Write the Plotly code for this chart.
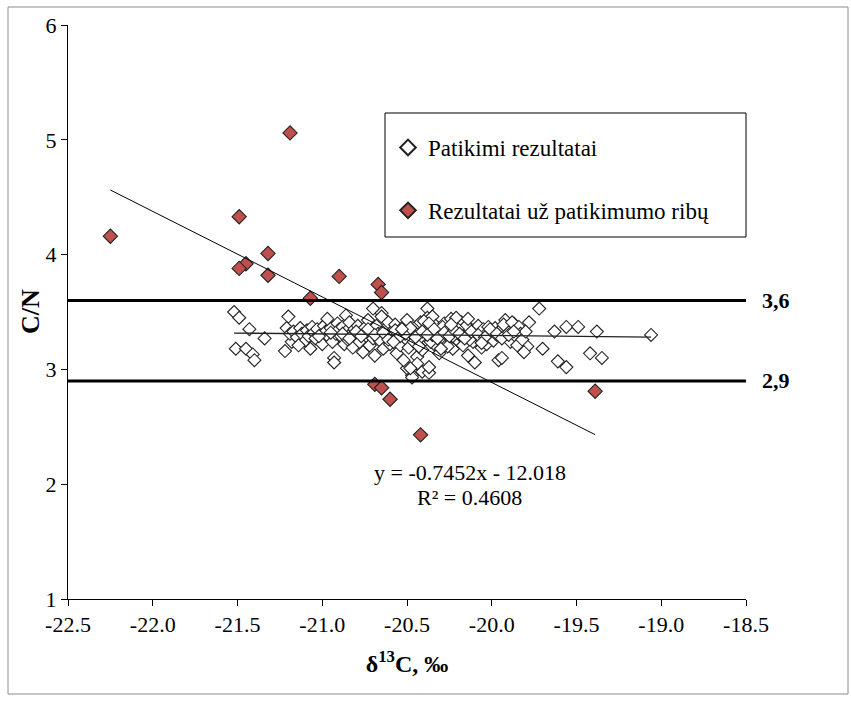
import plotly.graph_objects as go

# ---- data ----
reliable_x = [
    -21.52, -21.49, -21.43, -21.34, -21.51, -21.45, -21.41, -21.40, -21.20, -21.21, -21.22, -21.18, -21.19,
    -20.97, -20.93, -20.93, -20.70, -20.65, -20.86, -20.47, -20.50, -20.41, -20.38, -20.37, -20.10, -19.96,
    -19.92, -19.87, -19.72, -19.56, -19.49, -19.38, -19.06, -19.42, -19.35, -19.61, -19.56, -19.70, -19.79,
    -19.63, -19.78,
    -21.17, -21.15, -21.13, -21.12, -21.10, -21.09, -21.08, -21.06, -21.05, -21.04, -21.03, -21.01, -21.00,
    -20.99, -20.98, -20.96, -20.95, -20.94, -20.92, -20.91, -20.90, -21.14, -21.07, -20.97,
    -20.89, -20.88, -20.87, -20.86, -20.85, -20.84, -20.83, -20.82, -20.81, -20.80, -20.79, -20.78, -20.77,
    -20.76, -20.75, -20.74, -20.73, -20.72, -20.71, -20.70, -20.69, -20.68, -20.67, -20.66, -20.65, -20.64,
    -20.63, -20.62, -20.61, -20.60,
    -20.59, -20.58, -20.57, -20.56, -20.55, -20.54, -20.53, -20.52, -20.51, -20.50, -20.49, -20.48, -20.47,
    -20.46, -20.45, -20.44, -20.43, -20.42, -20.41, -20.40, -20.39, -20.38, -20.37, -20.36, -20.35, -20.34,
    -20.33, -20.32, -20.31, -20.30, -20.44, -20.48,
    -20.29, -20.28, -20.27, -20.26, -20.25, -20.24, -20.23, -20.22, -20.21, -20.20, -20.19, -20.18, -20.17,
    -20.16, -20.15, -20.14, -20.13, -20.12, -20.11, -20.09, -20.08, -20.07, -20.06, -20.05, -20.04, -20.03,
    -20.02, -20.01, -20.00,
    -19.99, -19.98, -19.97, -19.95, -19.94, -19.93, -19.91, -19.90, -19.89, -19.88, -19.86, -19.85,
    -19.84, -19.83, -19.82, -19.81, -19.80,
    -20.46, -20.42, -20.39, -20.36, -20.33, -20.29, -20.26, -20.23, -20.21, -20.18, -20.15, -20.13, -20.40,
    -20.35, -20.31, -20.27, -20.20, -20.17, -20.43, -20.37,
    -20.88, -20.84, -20.80, -20.77, -20.73, -20.69, -20.64, -20.61, -20.57, -20.54, -20.51, -20.48, -20.45,
    -20.41, -20.38, -20.34, -20.32, -20.28, -20.25, -20.22, -20.19, -20.16, -20.12, -20.08, -20.04, -20.01,
    -19.97, -19.94, -19.90, -19.87, -21.02, -20.95, -20.58, -20.53, -20.30, -20.24, -20.14, -20.06,
]
reliable_y = [
    3.50, 3.45, 3.35, 3.27, 3.18, 3.18, 3.13, 3.08, 3.46, 3.36, 3.16, 3.24, 3.31,
    3.41, 3.10, 3.06, 3.53, 3.49, 3.47, 2.95, 3.01, 2.98, 3.53, 2.97, 3.06, 3.08,
    3.43, 3.40, 3.53, 3.37, 3.37, 3.33, 3.30, 3.14, 3.10, 3.07, 3.02, 3.18, 3.20,
    3.33, 3.41,
    3.33, 3.28, 3.36, 3.31, 3.25, 3.34, 3.29, 3.37, 3.32, 3.27, 3.35, 3.30, 3.22,
    3.38, 3.33, 3.28, 3.36, 3.24, 3.31, 3.40, 3.35, 3.21, 3.18, 3.44,
    3.29, 3.37, 3.22, 3.33, 3.26, 3.41, 3.31, 3.19, 3.35, 3.28, 3.38, 3.24, 3.32,
    3.15, 3.36, 3.29, 3.43, 3.21, 3.34, 3.27, 3.12, 3.38, 3.31, 3.25, 3.46, 3.18,
    3.35, 3.29, 3.41, 3.22,
    3.33, 3.26, 3.39, 3.14, 3.30, 3.21, 3.36, 3.08, 3.27, 3.43, 3.19, 3.32, 2.93,
    3.24, 3.37, 3.11, 3.29, 3.41, 3.17, 3.34, 3.26, 3.45, 3.02, 3.31, 3.46, 3.22,
    3.38, 3.28, 3.14, 3.35, 3.05, 3.01,
    3.30, 3.40, 3.23, 3.35, 3.27, 3.44, 3.18, 3.32, 3.37, 3.25, 3.30, 3.41, 3.21,
    3.34, 3.28, 3.12, 3.36, 3.31, 3.24, 3.33, 3.38, 3.27, 3.19, 3.35, 3.30, 3.22,
    3.37, 3.28, 3.33,
    3.25, 3.36, 3.30, 3.34, 3.10, 3.39, 3.28, 3.32, 3.24, 3.41, 3.29, 3.21,
    3.37, 3.31, 3.26, 3.15, 3.33,
    3.33, 3.28, 3.36, 3.24, 3.31, 3.37, 3.20, 3.29, 3.45, 3.33, 3.38, 3.26, 3.42,
    3.30, 3.26, 3.33, 3.35, 3.29, 3.20, 3.40,
    3.31, 3.27, 3.33, 3.29, 3.35, 3.30, 3.32, 3.26, 3.34, 3.29, 3.31, 3.36, 3.28,
    3.33, 3.30, 3.35, 3.27, 3.32, 3.29, 3.34, 3.31, 3.27, 3.33, 3.30, 3.28, 3.35,
    3.31, 3.27, 3.30, 3.33, 3.29, 3.32, 3.24, 3.35, 3.18, 3.39, 3.44, 3.23,
]

outlier_x = [-22.25, -21.49, -21.45, -21.49, -21.32, -21.32, -21.19, -21.07, -20.90, -20.67,
             -20.65, -20.69, -20.65, -20.60, -20.42, -19.39]
outlier_y = [4.16, 4.33, 3.92, 3.88, 4.01, 3.82, 5.06, 3.62, 3.81, 3.74,
             3.67, 2.87, 2.84, 2.74, 2.43, 2.81]

# trend lines (slope, intercept)
trend_outlier = (-0.7452, -12.018)
trend_reliable = (-0.0142, 3.011)

limits = [3.6, 2.9]
limit_labels = ["3,6", "2,9"]

x_ticks = [-22.5, -22.0, -21.5, -21.0, -20.5, -20.0, -19.5, -19.0, -18.5]
y_ticks = [1, 2, 3, 4, 5, 6]

FONT = "Liberation Serif"
RED = "#C0504D"

fig = go.Figure()

fig.add_trace(go.Scatter(
    x=reliable_x, y=reliable_y, mode="markers", name="Patikimi rezultatai",
    legendgroup="a",
    marker=dict(symbol="diamond", size=10, color="white", line=dict(color="#222222", width=1.1)),
))
fig.add_trace(go.Scatter(
    x=outlier_x, y=outlier_y, mode="markers", name="Rezultatai už patikimumo ribų",
    legendgroup="b",
    marker=dict(symbol="diamond", size=11, color=RED, line=dict(color="#222222", width=1.1)),
))

# trend line of outliers
ox0, ox1 = min(outlier_x), max(outlier_x)
fig.add_trace(go.Scatter(
    x=[ox0, ox1], y=[trend_outlier[0] * ox0 + trend_outlier[1], trend_outlier[0] * ox1 + trend_outlier[1]],
    mode="lines", line=dict(color="black", width=1), showlegend=False, hoverinfo="skip"))
# trend line of reliable results
rx0, rx1 = min(reliable_x), max(reliable_x)
fig.add_trace(go.Scatter(
    x=[rx0, rx1], y=[trend_reliable[0] * rx0 + trend_reliable[1], trend_reliable[0] * rx1 + trend_reliable[1]],
    mode="lines", line=dict(color="#222222", width=1.3), showlegend=False, hoverinfo="skip"))

shapes = []
annotations = []
for v, lab in zip(limits, limit_labels):
    shapes.append(dict(type="line", xref="paper", x0=0, x1=1, yref="y", y0=v, y1=v,
                       line=dict(color="black", width=3)))
    annotations.append(dict(xref="paper", x=1, yref="y", y=v, text="<b>%s</b>" % lab, showarrow=False,
                            xanchor="left", xshift=14, font=dict(family=FONT, size=22, color="black")))

# legend box
shapes.append(dict(type="rect", xref="paper", yref="paper",
                   x0=(385 - 68) / 678, x1=(746 - 68) / 678, y0=(599 - 237) / 574, y1=(599 - 113) / 574,
                   line=dict(color="black", width=1), fillcolor="rgba(0,0,0,0)"))
# outer frame
shapes.append(dict(type="rect", xref="paper", yref="paper",
                   x0=(8 - 68) / 678, x1=(848 - 68) / 678, y0=(599 - 694) / 574, y1=(599 - 7) / 574,
                   line=dict(color="#8c8c8c", width=1), fillcolor="rgba(0,0,0,0)"))

annotations.append(dict(xref="x", yref="y", x=-20.13, y=2.10, text="y = -0.7452x - 12.018",
                        showarrow=False, font=dict(family=FONT, size=22, color="black")))
annotations.append(dict(xref="x", yref="y", x=-20.13, y=1.885, text="R² = 0.4608",
                        showarrow=False, font=dict(family=FONT, size=22, color="black")))
# y axis title
annotations.append(dict(xref="paper", yref="paper", x=(30 - 68) / 678, y=0.5, text="<b>C/N</b>",
                        textangle=-90, showarrow=False, xanchor="center", yanchor="middle",
                        font=dict(family=FONT, size=26, color="black")))

fig.update_layout(
    width=851, height=704,
    margin=dict(l=68, r=105, t=25, b=105),
    paper_bgcolor="white", plot_bgcolor="white",
    font=dict(family=FONT, size=22, color="black"),
    showlegend=True,
    legend=dict(x=(388 - 68) / 678, y=(599 - 126) / 574, xanchor="left", yanchor="top",
                bgcolor="rgba(0,0,0,0)", borderwidth=0, tracegroupgap=30,
                font=dict(family=FONT, size=23, color="black"), itemsizing="constant"),
    shapes=shapes, annotations=annotations,
    xaxis=dict(range=[-22.5, -18.5], tickvals=x_ticks, ticktext=["%.1f" % v for v in x_ticks],
               ticks="outside", ticklen=6, tickcolor="black", showline=True, linecolor="black", linewidth=1,
               showgrid=False, zeroline=False, tickfont=dict(family=FONT, size=22),
               title=dict(text="<b>δ<sup>13</sup>C, ‰</b>", font=dict(family=FONT, size=24), standoff=18)),
    yaxis=dict(range=[1, 6], tickvals=y_ticks, ticks="outside", ticklen=6, tickcolor="black",
               showline=True, linecolor="black", linewidth=1, showgrid=False, zeroline=False,
               tickfont=dict(family=FONT, size=22)),
)

fig.write_html("out.html")
